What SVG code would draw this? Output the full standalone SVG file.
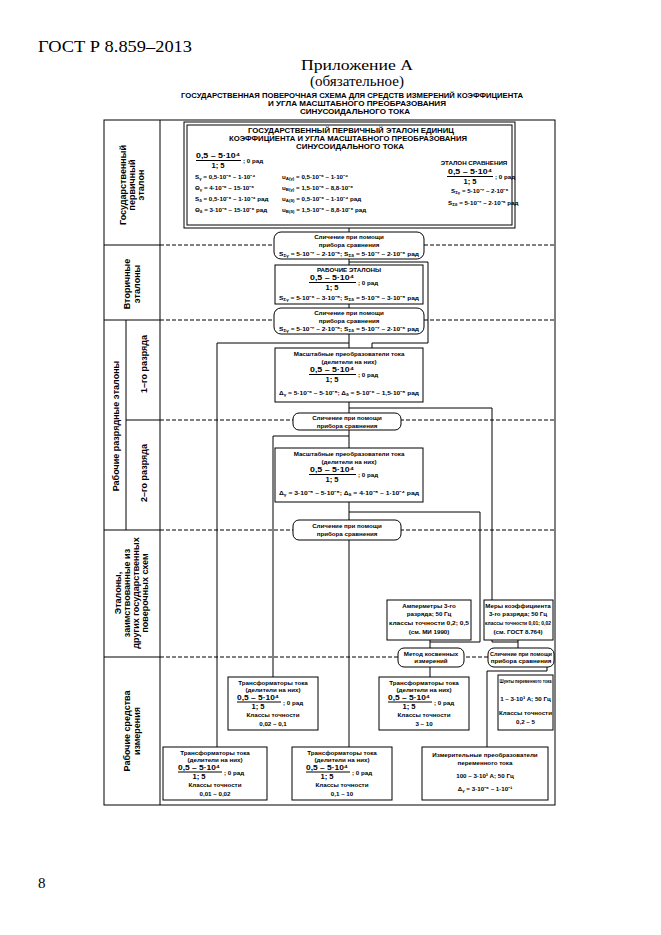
<svg xmlns="http://www.w3.org/2000/svg" width="661" height="935" viewBox="0 0 661 935">
<style>
.hd{font-family:"Liberation Serif","Times New Roman",serif;fill:#000}
.t{font-family:"Liberation Sans",Arial,sans-serif;font-weight:bold;font-size:6.2px;fill:#000;text-anchor:middle}
.l{text-anchor:start}
.f{font-size:7.6px}
.tt{font-family:"Liberation Sans",Arial,sans-serif;font-weight:bold;font-size:7.4px;fill:#000;text-anchor:middle}
.lab{font-family:"Liberation Sans",Arial,sans-serif;font-weight:bold;font-size:9px;fill:#000;text-anchor:middle}
.box{fill:#fff;stroke:#000;stroke-width:1}
.ln{fill:none;stroke:#000;stroke-width:1}
.dash{fill:none;stroke:#000;stroke-width:1;stroke-dasharray:4 2}
.s{font-size:4.4px}
</style>
<rect width="661" height="935" fill="#fff"/>
<g id="header">
<text class="hd" x="38" y="52" font-size="17" textLength="154" lengthAdjust="spacingAndGlyphs">ГОСТ Р 8.859–2013</text>
<text class="hd" x="357" y="70" font-size="15" text-anchor="middle" textLength="112" lengthAdjust="spacingAndGlyphs">Приложение А</text>
<text class="hd" x="357" y="86" font-size="15" text-anchor="middle" textLength="94" lengthAdjust="spacingAndGlyphs">(обязательное)</text>
<text class="tt" x="352" y="98" textLength="342" lengthAdjust="spacingAndGlyphs">ГОСУДАРСТВЕННАЯ ПОВЕРОЧНАЯ СХЕМА ДЛЯ СРЕДСТВ ИЗМЕРЕНИЙ  КОЭФФИЦИЕНТА</text>
<text class="tt" x="357" y="106" textLength="178" lengthAdjust="spacingAndGlyphs">И УГЛА МАСШТАБНОГО ПРЕОБРАЗОВАНИЯ</text>
<text class="tt" x="355" y="114" textLength="110" lengthAdjust="spacingAndGlyphs">СИНУСОИДАЛЬНОГО ТОКА</text>
<text class="hd" x="38" y="888" font-size="15">8</text>
</g>
<g id="frame">
<rect class="ln" x="104" y="120" width="451" height="685"/>
<line class="ln" x1="160" y1="120" x2="160" y2="805"/>
<line class="ln" x1="126" y1="320" x2="126" y2="530"/>
<line class="ln" x1="104" y1="245" x2="160" y2="245"/>
<line class="ln" x1="104" y1="320" x2="160" y2="320"/>
<line class="ln" x1="126" y1="420" x2="160" y2="420"/>
<line class="ln" x1="104" y1="530" x2="160" y2="530"/>
<line class="ln" x1="104" y1="657" x2="160" y2="657"/>
<line class="dash" x1="160" y1="245" x2="555" y2="245"/>
<line class="dash" x1="160" y1="320" x2="555" y2="320"/>
<line class="dash" x1="160" y1="420" x2="555" y2="420"/>
<line class="dash" x1="160" y1="530" x2="555" y2="530"/>
<line class="dash" x1="160" y1="657" x2="555" y2="657"/>
</g>
<g id="labels">
<g transform="translate(131,185) rotate(-90)"><text class="lab" y="-5.5">Государственный</text><text class="lab" y="3.5">первичный</text><text class="lab" y="12.5">эталон</text></g>
<g transform="translate(131,284) rotate(-90)"><text class="lab" y="-1.5">Вторичные</text><text class="lab" y="8.5">эталоны</text></g>
<g transform="translate(115,426) rotate(-90)"><text class="lab" y="3.5">Рабочие разрядные эталоны</text></g>
<g transform="translate(143,364) rotate(-90)"><text class="lab" y="3.5">1–го  разряда</text></g>
<g transform="translate(143,473) rotate(-90)"><text class="lab" y="3.5">2–го  разряда</text></g>
<g transform="translate(131,593) rotate(-90)"><text class="lab" y="-10.5">Эталоны,</text><text class="lab" y="-1.5">заимствованные из</text><text class="lab" y="7.5">других государственных</text><text class="lab" y="16.5">поверочных схем</text></g>
<g transform="translate(131,731) rotate(-90)"><text class="lab" y="-1.5">Рабочие средства</text><text class="lab" y="8.5">измерения</text></g>
</g>
<g id="connectors">
<polyline class="ln" points="349,228 349,232"/>
<polyline class="ln" points="349,259 349,265"/>
<polyline class="ln" points="349,262 428,262 428,343 372,343 372,348"/>
<polyline class="ln" points="349,304 349,308"/>
<polyline class="ln" points="349,334 349,348"/>
<polyline class="ln" points="349,343 217,343 217,747"/>
<polyline class="ln" points="349,402 349,413"/>
<polyline class="ln" points="349,408 492,408 492,642 518,642"/>
<polyline class="ln" points="349,430 349,448"/>
<polyline class="ln" points="349,436 273,436 273,677"/>
<polyline class="ln" points="349,502 349,520"/>
<polyline class="ln" points="349,512 480,512 480,642 430,642"/>
<polyline class="ln" points="349,540 349,747"/>
<polyline class="ln" points="430,640 430,648"/>
<polyline class="ln" points="518,640 518,648"/>
<polyline class="ln" points="430,667 430,677"/>
<polyline class="ln" points="547,667 547,671 487,671 487,747"/>
</g>
<g id="primary">
<rect class="box" x="184" y="122" width="331" height="106"/>
<rect class="ln" x="187" y="125" width="325" height="100"/>
<text class="tt" x="351" y="133" textLength="206" lengthAdjust="spacingAndGlyphs">ГОСУДАРСТВЕННЫЙ ПЕРВИЧНЫЙ ЭТАЛОН ЕДИНИЦ</text>
<text class="tt" x="348" y="141" textLength="238" lengthAdjust="spacingAndGlyphs">КОЭФФИЦИЕНТА И УГЛА  МАСШТАБНОГО  ПРЕОБРАЗОВАНИЯ</text>
<text class="tt" x="350" y="149" textLength="108" lengthAdjust="spacingAndGlyphs">СИНУСОИДАЛЬНОГО ТОКА</text>
<text class="t f" x="218" y="158" textLength="44" lengthAdjust="spacingAndGlyphs">0,5 – 5·10⁴</text>
<line class="ln" x1="196" y1="160.5" x2="241" y2="160.5"/>
<text class="t f" x="218" y="167.5">1;  5</text>
<text class="t l" x="243" y="163">; 0 рад</text>
<text class="t l" x="195" y="179">S<tspan class="s" dy="1">γ</tspan><tspan dy="-1"> = 0,5·10⁻⁶ – 1·10⁻⁴</tspan></text>
<text class="t l" x="195" y="190">Θ<tspan class="s" dy="1">γ</tspan><tspan dy="-1"> = 4·10⁻⁶ – 15·10⁻⁶</tspan></text>
<text class="t l" x="195" y="201">S<tspan class="s" dy="1">δ</tspan><tspan dy="-1"> = 0,5·10⁻⁶ – 1·10⁻⁴ рад</tspan></text>
<text class="t l" x="195" y="212">Θ<tspan class="s" dy="1">δ</tspan><tspan dy="-1"> = 3·10⁻⁶ – 15·10⁻⁶ рад</tspan></text>
<text class="t l" x="282" y="179">u<tspan class="s" dy="1">A(γ)</tspan><tspan dy="-1"> = 0,5·10⁻⁶ – 1·10⁻⁴</tspan></text>
<text class="t l" x="282" y="190">u<tspan class="s" dy="1">B(γ)</tspan><tspan dy="-1"> = 1,5·10⁻⁶ – 8,8·10⁻⁶</tspan></text>
<text class="t l" x="282" y="201">u<tspan class="s" dy="1">A(δ)</tspan><tspan dy="-1"> = 0,5·10⁻⁶ – 1·10⁻⁴ рад</tspan></text>
<text class="t l" x="282" y="212">u<tspan class="s" dy="1">B(δ)</tspan><tspan dy="-1"> = 1,5·10⁻⁶ – 8,8·10⁻⁶ рад</tspan></text>
<text class="t" x="474" y="165">ЭТАЛОН СРАВНЕНИЯ</text>
<text class="t f" x="470" y="174" textLength="44" lengthAdjust="spacingAndGlyphs">0,5 – 5·10⁴</text>
<line class="ln" x1="447" y1="176.5" x2="493" y2="176.5"/>
<text class="t f" x="470" y="183.5">1;  5</text>
<text class="t l" x="495" y="179">; 0 рад</text>
<text class="t l" x="451" y="193">S<tspan class="s" dy="1">Σγ</tspan><tspan dy="-1"> = 5·10⁻⁷ – 2·10⁻⁶</tspan></text>
<text class="t l" x="448" y="205">S<tspan class="s" dy="1">Σδ</tspan><tspan dy="-1"> = 5·10⁻⁷ – 2·10⁻⁶ рад</tspan></text>
</g>
<g id="cmp1">
<rect class="box" x="274" y="232" width="150" height="27" rx="7"/>
<text class="t" x="349" y="239">Сличение при помощи</text>
<text class="t" x="349" y="246.5">прибора сравнения</text>
<text class="t" x="349" y="255.5" textLength="140" lengthAdjust="spacingAndGlyphs">S<tspan class="s" dy="1">Σγ</tspan><tspan dy="-1"> = 5·10⁻⁷ – 2·10⁻⁶;  S</tspan><tspan class="s" dy="1">Σδ</tspan><tspan dy="-1"> = 5·10⁻⁷ – 2·10⁻⁶ рад</tspan></text>
</g>
<g id="working">
<rect class="box" x="275" y="265" width="148" height="39"/>
<text class="t" x="349" y="272">РАБОЧИЕ ЭТАЛОНЫ</text>
<text class="t f" x="332" y="280" textLength="44" lengthAdjust="spacingAndGlyphs">0,5 – 5·10⁴</text>
<line class="ln" x1="309" y1="282.5" x2="356" y2="282.5"/>
<text class="t f" x="332" y="289.5">1;  5</text>
<text class="t l" x="358" y="285">; 0 рад</text>
<text class="t" x="349" y="300" textLength="140" lengthAdjust="spacingAndGlyphs">S<tspan class="s" dy="1">Σγ</tspan><tspan dy="-1"> = 5·10⁻⁶ – 3·10⁻⁵;  S</tspan><tspan class="s" dy="1">Σδ</tspan><tspan dy="-1"> = 5·10⁻⁶ – 3·10⁻⁵ рад</tspan></text>
</g>
<g id="cmp2">
<rect class="box" x="274" y="308" width="150" height="26" rx="7"/>
<text class="t" x="349" y="315">Сличение при помощи</text>
<text class="t" x="349" y="322.5">прибора сравнения</text>
<text class="t" x="349" y="331" textLength="140" lengthAdjust="spacingAndGlyphs">S<tspan class="s" dy="1">Σγ</tspan><tspan dy="-1"> = 5·10⁻⁷ – 2·10⁻⁶;  S</tspan><tspan class="s" dy="1">Σδ</tspan><tspan dy="-1"> = 5·10⁻⁷ – 2·10⁻⁶ рад</tspan></text>
</g>
<g id="scale1">
<rect class="box" x="275" y="348" width="148" height="54"/>
<text class="t" x="349" y="356">Масштабные преобразователи тока</text>
<text class="t" x="349" y="363.5">(делители на них)</text>
<text class="t f" x="332" y="372" textLength="44" lengthAdjust="spacingAndGlyphs">0,5 – 5·10⁴</text>
<line class="ln" x1="309" y1="374.5" x2="356" y2="374.5"/>
<text class="t f" x="332" y="381.5">1;  5</text>
<text class="t l" x="358" y="377">; 0 рад</text>
<text class="t" x="349" y="395" textLength="140" lengthAdjust="spacingAndGlyphs">Δ<tspan class="s" dy="1">γ</tspan><tspan dy="-1"> = 5·10⁻⁶ – 5·10⁻⁵;  Δ</tspan><tspan class="s" dy="1">δ</tspan><tspan dy="-1"> = 5·10⁻⁶ – 1,5·10⁻⁵ рад</tspan></text>
</g>
<g id="cmp3">
<rect class="box" x="293" y="413" width="108" height="17" rx="6"/>
<text class="t" x="347" y="420">Сличение при помощи</text>
<text class="t" x="347" y="427.5">прибора сравнения</text>
</g>
<g id="scale2">
<rect class="box" x="275" y="448" width="148" height="54"/>
<text class="t" x="349" y="456">Масштабные преобразователи тока</text>
<text class="t" x="349" y="463.5">(делители на них)</text>
<text class="t f" x="332" y="472" textLength="44" lengthAdjust="spacingAndGlyphs">0,5 – 5·10⁴</text>
<line class="ln" x1="309" y1="474.5" x2="356" y2="474.5"/>
<text class="t f" x="332" y="481.5">1;  5</text>
<text class="t l" x="358" y="477">; 0 рад</text>
<text class="t" x="349" y="495" textLength="140" lengthAdjust="spacingAndGlyphs">Δ<tspan class="s" dy="1">γ</tspan><tspan dy="-1"> = 3·10⁻⁵ – 5·10⁻⁵;  Δ</tspan><tspan class="s" dy="1">δ</tspan><tspan dy="-1"> = 4·10⁻⁵ – 1·10⁻⁴ рад</tspan></text>
</g>
<g id="cmp4">
<rect class="box" x="293" y="520" width="108" height="20" rx="6"/>
<text class="t" x="347" y="528">Сличение при помощи</text>
<text class="t" x="347" y="535.5">прибора сравнения</text>
</g>
<g id="ammeters">
<rect class="box" x="387" y="600" width="84" height="40"/>
<text class="t" x="429" y="608">Амперметры 3-го</text>
<text class="t" x="429" y="616">разряда; 50 Гц</text>
<text class="t" x="429" y="624.5" textLength="80" lengthAdjust="spacingAndGlyphs">классы точности 0,2; 0,5</text>
<text class="t" x="429" y="633.5">(см. МИ 1990)</text>
</g>
<g id="measures">
<rect class="box" x="484" y="600" width="69" height="40"/>
<text class="t" x="518" y="608">Меры коэффициента</text>
<text class="t" x="518" y="616">3-го разряда; 50 Гц</text>
<text class="t" x="518" y="624.5" textLength="66" lengthAdjust="spacingAndGlyphs">классы точности 0,01; 0,02</text>
<text class="t" x="518" y="633.5">(см. ГОСТ 8.764)</text>
</g>
<g id="indirect">
<rect class="box" x="398" y="648" width="66" height="19" rx="6"/>
<text class="t" x="431" y="655.5">Метод косвенных</text>
<text class="t" x="431" y="663">измерений</text>
</g>
<g id="cmp5">
<rect class="box" x="488" y="648" width="66" height="19" rx="6"/>
<text class="t" x="521" y="655.5" textLength="62" lengthAdjust="spacingAndGlyphs">Сличение при помощи</text>
<text class="t" x="521" y="663">прибора сравнения</text>
</g>
<g id="tt1">
<rect class="box" x="228" y="677" width="90" height="53"/>
<text class="t" x="273" y="684.5">Трансформаторы тока</text>
<text class="t" x="273" y="691.5">(делители на них)</text>
<text class="t f" x="258" y="699.5" textLength="42" lengthAdjust="spacingAndGlyphs">0,5 – 5·10⁴</text>
<line class="ln" x1="237" y1="702" x2="281" y2="702"/>
<text class="t f" x="258" y="709">1;  5</text>
<text class="t l" x="283" y="705">; 0 рад</text>
<text class="t" x="273" y="717">Классы точности</text>
<text class="t" x="273" y="725.5">0,02 – 0,1</text>
</g>
<g id="tt2">
<rect class="box" x="379" y="677" width="90" height="53"/>
<text class="t" x="424" y="684.5">Трансформаторы тока</text>
<text class="t" x="424" y="691.5">(делители на них)</text>
<text class="t f" x="409" y="699.5" textLength="42" lengthAdjust="spacingAndGlyphs">0,5 – 5·10⁴</text>
<line class="ln" x1="388" y1="702" x2="432" y2="702"/>
<text class="t f" x="409" y="709">1;  5</text>
<text class="t l" x="434" y="705">; 0 рад</text>
<text class="t" x="424" y="717">Классы точности</text>
<text class="t" x="424" y="725.5">3 – 10</text>
</g>
<g id="shunts">
<rect class="box" x="498" y="675" width="55" height="55"/>
<text class="t" x="525.5" y="683" textLength="52" lengthAdjust="spacingAndGlyphs">Шунты переменного тока</text>
<text class="t" x="525.5" y="701">1 – 3·10³ А; 50 Гц</text>
<text class="t" x="525.5" y="715">Классы точности</text>
<text class="t" x="525.5" y="724">0,2 – 5</text>
</g>
<g id="tt3">
<rect class="box" x="163" y="747" width="104" height="53"/>
<text class="t" x="215" y="754.5">Трансформаторы тока</text>
<text class="t" x="215" y="761.5">(делители на них)</text>
<text class="t f" x="199" y="769.5" textLength="42" lengthAdjust="spacingAndGlyphs">0,5 – 5·10⁴</text>
<line class="ln" x1="178" y1="772" x2="222" y2="772"/>
<text class="t f" x="199" y="779">1;  5</text>
<text class="t l" x="224" y="775">; 0 рад</text>
<text class="t" x="215" y="787">Классы точности</text>
<text class="t" x="215" y="795.5">0,01 – 0,02</text>
</g>
<g id="tt4">
<rect class="box" x="292" y="747" width="100" height="53"/>
<text class="t" x="342" y="754.5">Трансформаторы тока</text>
<text class="t" x="342" y="761.5">(делители на них)</text>
<text class="t f" x="327" y="769.5" textLength="42" lengthAdjust="spacingAndGlyphs">0,5 – 5·10⁴</text>
<line class="ln" x1="306" y1="772" x2="350" y2="772"/>
<text class="t f" x="327" y="779">1;  5</text>
<text class="t l" x="352" y="775">; 0 рад</text>
<text class="t" x="342" y="787">Классы точности</text>
<text class="t" x="342" y="795.5">0,1 – 10</text>
</g>
<g id="converters">
<rect class="box" x="422" y="747" width="126" height="53"/>
<text class="t" x="485" y="757">Измерительные преобразователи</text>
<text class="t" x="485" y="765">переменного тока</text>
<text class="t" x="485" y="778">100 – 3·10³ А; 50 Гц</text>
<text class="t" x="485" y="791">Δ<tspan class="s" dy="1">γ</tspan><tspan dy="-1"> = 3·10⁻⁶ – 1·10⁻¹</tspan></text>
</g>
</svg>
